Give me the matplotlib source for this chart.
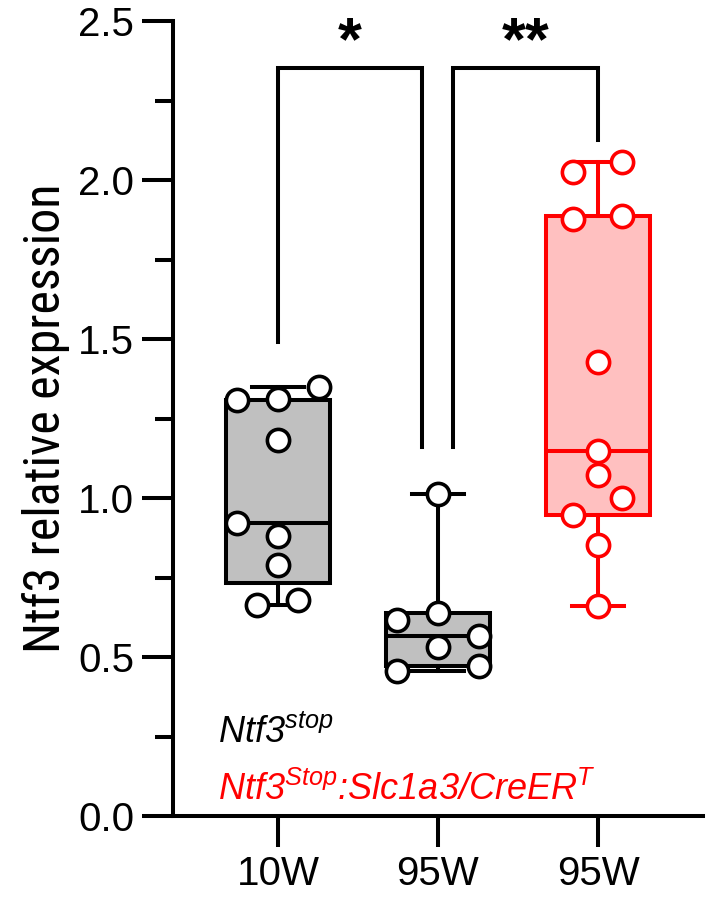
import numpy as np
import matplotlib
matplotlib.use("Agg")
import matplotlib.pyplot as plt
from matplotlib import font_manager
from matplotlib.ticker import MultipleLocator

# data
groups = ["10W", "95W", "95W"]
vals_10w = [1.307, 1.310, 1.350, 1.184, 0.920, 0.879, 0.788, 0.663, 0.678]
vals_95w = [1.014, 0.637, 0.616, 0.565, 0.531, 0.455, 0.471]
vals_cre = [2.057, 2.026, 1.888, 1.878, 1.429, 1.149, 1.071, 0.999, 0.946, 0.851, 0.660]

# scatter slot for each point (column scatter layout)
slot_10w = [-1, 0, 1, 0, -1, 0, 0, -0.5, 0.5]
slot_95w = [0, 0, -1, 1, 0, -1, 1]
slot_cre = [0.58, -0.6, 0.58, -0.6, 0, 0, 0, 0.58, -0.6, 0, 0]

stars = ["*", "**"]

narrow = None
for fam in ["Liberation Sans Narrow", "Roboto Condensed", "Open Sans Condensed"]:
    try:
        font_manager.findfont(fam, fallback_to_default=False)
        narrow = fam
        break
    except Exception:
        pass

plt.rcParams['font.family'] = ['Liberation Sans', 'DejaVu Sans']
plt.rcParams['mathtext.fontset'] = 'custom'
plt.rcParams['mathtext.it'] = 'Liberation Sans:italic'
plt.rcParams['mathtext.rm'] = 'Liberation Sans'

RED = "#ff0000"
LW = 2.9

fig = plt.figure(figsize=(7.09, 8.98), dpi=100)
ax = fig.add_axes([0.244, 0.0913, 0.7475, 0.8853])

data = [vals_10w, vals_95w, vals_cre]
slots = [slot_10w, slot_95w, slot_cre]
faces = ["#c0c0c0", "#c0c0c0", "#ffc0c0"]
edges = ["black", "black", RED]

for i, (v, sl, fc, ec) in enumerate(zip(data, slots, faces, edges)):
    v = np.array(v)
    q1, med, q3 = np.percentile(v, [25, 50, 75], method="weibull")
    st = [dict(med=med, q1=q1, q3=q3, whislo=v.min(), whishi=v.max(), fliers=[])]
    ax.bxp(st, positions=[i], widths=0.65, capwidths=0.32, patch_artist=True,
           showfliers=False,
           boxprops=dict(facecolor=fc, edgecolor=ec, linewidth=LW),
           medianprops=dict(color=ec, linewidth=LW),
           whiskerprops=dict(color=ec, linewidth=LW),
           capprops=dict(color=ec, linewidth=LW), zorder=2)
    xs = i + 0.256 * np.array(sl)
    ax.plot(xs, v, 'o', ms=16, mfc='white', mec=ec, mew=2.6, ls='none', zorder=3)

# significance brackets
b_y = 2.352
ax.plot([0, 0, 0.9, 0.9], [1.49, b_y, b_y, 1.16], color='black', lw=LW,
        solid_joinstyle='miter', clip_on=False)
ax.plot([1.094, 1.094, 2, 2], [1.16, b_y, b_y, 2.126], color='black', lw=LW,
        solid_joinstyle='miter', clip_on=False)
ax.text(0.45, 2.43, stars[0], ha='center', va='center', fontsize=44,
        fontweight='bold', clip_on=False)
ax.text(1.547, 2.43, stars[1], ha='center', va='center', fontsize=44,
        fontweight='bold', clip_on=False)

# genotype labels
ax.text(0.085, 0.23, r'Ntf3$^{stop}$', transform=ax.get_yaxis_transform(),
        fontsize=26, style='italic', color='black', ha='left', va='baseline')
ax.text(0.085, 0.05, r'Ntf3$^{Stop}$:Slc1a3/CreER$^{T}$',
        transform=ax.get_yaxis_transform(),
        fontsize=26, style='italic', color=RED, ha='left', va='baseline')

ax.set_xlim(-0.656, 2.656)
ax.set_ylim(0, 2.5)
ax.set_xticks(range(len(groups)))
ax.set_xticklabels(groups)
ax.yaxis.set_major_locator(MultipleLocator(0.5))
ax.yaxis.set_minor_locator(MultipleLocator(0.25))
ax.yaxis.set_major_formatter(matplotlib.ticker.FormatStrFormatter('%.1f'))

for s in ['top', 'right']:
    ax.spines[s].set_visible(False)
for s in ['left', 'bottom']:
    ax.spines[s].set_linewidth(LW)

ax.tick_params(axis='y', which='major', length=22, width=LW, labelsize=29, pad=6)
ax.tick_params(axis='y', which='minor', length=13, width=LW)
ax.tick_params(axis='x', which='major', length=22, width=LW, labelsize=29, pad=6)

if narrow:
    ax.set_ylabel('Ntf3 relative expression', fontsize=36, family=narrow, labelpad=6)
else:
    ax.set_ylabel('Ntf3 relative expression', fontsize=32, labelpad=4)

fig.savefig('out.png', dpi=100)
